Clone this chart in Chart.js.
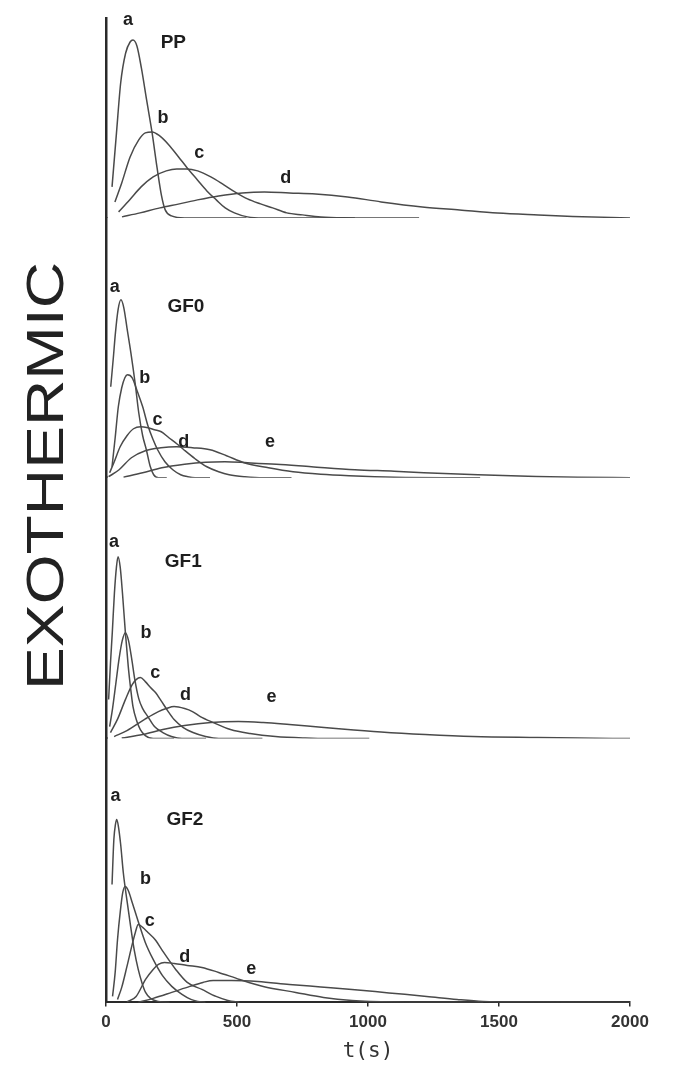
<!DOCTYPE html>
<html>
<head>
<meta charset="utf-8">
<script src="https://cdn.jsdelivr.net/npm/chart.js@4/dist/chart.umd.min.js"></script>
<style>
  html, body { margin: 0; padding: 0; background: #fff; }
</style>
</head>
<body>
<canvas id="exo_chart" width="676" height="1066"></canvas>
<script>
// t (s) vs heat flow (arbitrary units)

// PP panel
const ppA = [[23,31],[40,85],[56,135],[75,165],[92,176],[103,178],[118,172],[135,150],[155,118],[176,85],[195,50],[212,22],[226,8],[250,2],[300,0],[536,0]];
const ppB = [[34,16],[60,35],[92,61],[125,78],[150,85],[176,86],[205,82],[240,73],[277,61],[310,50],[349,38],[385,27],[421,18],[455,10],[490,5],[540,1],[600,0],[1195,0]];
const ppC = [[48,6],[90,18],[134,31],[180,41],[230,47],[270,49],[307,49],[350,47],[400,41],[450,33],[492,26],[540,19],[590,14],[636,10],[690,5],[750,3],[820,1],[950,0]];
const ppD = [[61,1],[130,5],[206,10],[280,14],[349,18],[430,22],[520,25],[605,26],[700,25],[800,24],[922,21],[1050,16],[1207,11],[1350,8],[1494,5],[1650,3],[1782,1.5],[2000,0]];

// GF0 panel
const gf0A = [[18,91],[28,120],[36,145],[46,168],[57,178],[68,170],[80,150],[95,125],[111,95],[125,65],[140,42],[154,28],[168,12],[182,3],[200,0],[232,0]];
const gf0B = [[23,11],[35,40],[47,71],[60,90],[72,100],[82,103],[100,100],[120,86],[140,71],[160,52],[180,38],[197,28],[225,16],[255,8],[285,3],[312,1],[340,0],[397,0]];
const gf0C = [[14,5],[30,15],[54,31],[80,42],[105,49],[132,51],[160,50],[185,48],[211,46],[240,40],[270,34],[297,28],[340,19],[385,11],[430,6],[470,3],[530,1],[600,0],[708,0]];
const gf0D = [[10,1],[50,8],[97,20],[150,27],[210,30],[269,31],[330,30],[397,28],[460,22],[527,15],[620,10],[714,6],[820,3.5],[928,2],[1100,0.5],[1428,0]];
const gf0E = [[67,0.5],[140,5],[213,10],[300,13.5],[380,15.5],[454,16],[540,15],[650,13.5],[784,11],[950,8],[1100,6.5],[1213,5],[1420,3],[1642,1.3],[1800,0.5],[2000,0]];

// GF1 panel
const gf1A = [[10,39],[17,75],[24,106],[32,145],[40,172],[46,182],[54,172],[63,145],[74,106],[85,72],[95,48],[103,32],[118,17],[131,9],[150,3],[180,0],[260,0]];
const gf1B = [[14,12],[25,30],[38,56],[50,80],[62,98],[74,106],[86,98],[98,80],[110,59],[125,40],[140,30],[160,22],[185,12],[217,6],[250,2],[290,0],[382,0]];
const gf1C = [[17,6],[45,20],[74,39],[100,54],[115,59],[131,61],[150,57],[170,51],[189,46],[210,38],[235,28],[260,19],[295,11],[332,6],[380,2],[430,0],[597,0]];
const gf1D = [[31,2],[80,8],[146,19],[200,27],[230,30],[260,32],[300,30],[330,27],[360,22],[410,16],[475,9],[550,5],[647,2],[760,0.5],[850,0],[1005,0]];
const gf1E = [[60,0.5],[140,4],[217,9],[300,13],[400,16],[505,17],[600,16],[700,14],[790,12],[900,9.5],[1050,6.5],[1218,4],[1400,2],[1648,1],[1800,0.5],[2000,0]];

// GF2 panel
const gf2A = [[23,118],[30,163],[36,178],[41,183],[48,175],[56,158],[66,130],[80,102],[94,76],[108,52],[123,33],[138,19],[151,10],[170,4],[200,1],[243,0]];
const gf2B = [[25,6],[35,30],[44,63],[55,92],[64,110],[73,116],[85,112],[100,100],[123,81],[150,60],[180,43],[215,27],[251,16],[290,8],[324,3],[350,1],[380,0]];
const gf2C = [[44,3],[60,15],[80,36],[100,58],[112,70],[123,78],[140,75],[160,70],[187,63],[220,50],[266,33],[310,20],[366,13],[420,6],[465,2],[510,0]];
const gf2D = [[80,0.5],[115,6],[151,23],[180,33],[200,38],[223,40],[260,39],[310,37],[366,35],[430,30],[510,23],[600,16],[724,10],[830,5],[939,2],[1100,0.5],[1440,0]];
const gf2E = [[123,0],[180,4],[251,10],[320,16],[370,20],[409,22],[480,22],[580,21],[700,18],[820,15.5],[939,13],[1080,9.5],[1224,6],[1340,3],[1439,1],[1600,0.3],[2000,0]];

const xTicks = [0, 500, 1000, 1500, 2000];

// label anchors in data units (t, height)
const ppLetters  = [['a',84,198],['b',218,100],['c',356,65],['d',686,40]];
const gf0Letters = [['a',33,191],['b',148,100],['c',197,58],['d',297,36],['e',626,36]];
const gf1Letters = [['a',31,197],['b',153,106],['c',188,66],['d',303,44],['e',632,42]];
const gf2Letters = [['a',36,206],['b',151,123],['c',167,81],['d',301,45],['e',554,33]];

const panels = [
    { name: 'PP',  axis: 'yPP',  max: 200, nameAt: [257,175], curves: [ppA, ppB, ppC, ppD], letters: ppLetters },
    { name: 'GF0', axis: 'yGF0', max: 260, nameAt: [305,171], curves: [gf0A, gf0B, gf0C, gf0D, gf0E], letters: gf0Letters },
    { name: 'GF1', axis: 'yGF1', max: 261, nameAt: [295,177], curves: [gf1A, gf1B, gf1C, gf1D, gf1E], letters: gf1Letters },
    { name: 'GF2', axis: 'yGF2', max: 264, nameAt: [301,183], curves: [gf2A, gf2B, gf2C, gf2D, gf2E], letters: gf2Letters }
];

const LINE = '#4a4a4a';
const AXIS = '#2a2a2a';

let datasets = [];
panels.forEach(p => {
    p.curves.forEach(c => {
        datasets.push({
            data: c.map(pt => ({ x: pt[0], y: pt[1] })),
            yAxisID: p.axis,
            borderColor: LINE,
            borderWidth: 1.5,
            pointRadius: 0,
            fill: false,
            cubicInterpolationMode: 'monotone'
        });
    });
});

let scales = {
    x: {
        type: 'linear',
        position: 'bottom',
        min: 0,
        max: 2000,
        afterBuildTicks: axis => { axis.ticks = xTicks.map(v => ({ value: v })); },
        ticks: {
            color: '#333',
            padding: 6,
            callback: v => String(v),
            font: { family: '"Liberation Sans", Arial, sans-serif', size: 17, weight: 'bold' }
        },
        grid: { display: true, drawOnChartArea: false, tickLength: 4, color: AXIS, lineWidth: 1.5 },
        border: { color: AXIS, width: 2 },
        title: {
            display: true,
            text: 't(s)',
            color: '#333',
            padding: { top: 0, bottom: 0 },
            font: { family: '"DejaVu Sans Mono", monospace', size: 21 }
        }
    }
};

// stacked y axes, bottom panel first so the top one is placed last
panels.slice().reverse().forEach(p => {
    scales[p.axis] = {
        type: 'linear',
        position: 'left',
        stack: 'panels',
        stackWeight: p.max,
        min: 0,
        max: p.max,
        ticks: { display: false },
        grid: { display: false, drawTicks: false },
        border: { color: AXIS, width: 2.5 }
    };
});

const annotate = {
    id: 'annotate',
    afterDatasetsDraw(chart) {
        const ctx = chart.ctx;
        const xs = chart.scales.x;
        ctx.save();
        ctx.fillStyle = '#1e1e1e';
        ctx.textAlign = 'center';
        ctx.textBaseline = 'middle';
        panels.forEach(p => {
            const ys = chart.scales[p.axis];
            ctx.font = 'bold 19px "Liberation Sans", Arial, sans-serif';
            ctx.fillText(p.name, xs.getPixelForValue(p.nameAt[0]), ys.getPixelForValue(p.nameAt[1]));
            ctx.font = 'bold 18px "Liberation Sans", Arial, sans-serif';
            p.letters.forEach(l => {
                ctx.fillText(l[0], xs.getPixelForValue(l[1]), ys.getPixelForValue(l[2]));
            });
        });

        // big rotated y label, stretched along the axis
        const area = chart.chartArea;
        ctx.translate(49, area.top + 458);
        ctx.rotate(-Math.PI / 2);
        ctx.font = '52px "Liberation Sans", Arial, sans-serif';
        const w = ctx.measureText('EXOTHERMIC').width;
        ctx.scale(428 / w, 1);
        ctx.fillStyle = '#222';
        ctx.fillText('EXOTHERMIC', 0, 0);
        ctx.restore();
    }
};

let exoChart = null;

function initializeChart() {
    const ctx = document.getElementById('exo_chart').getContext('2d');
    exoChart = new Chart(ctx, {
        type: 'line',
        data: { datasets: datasets },
        options: {
            responsive: false,
            animation: false,
            layout: { padding: { left: 106, right: 46, top: 18, bottom: 2 } },
            scales: scales,
            plugins: {
                legend: { display: false },
                tooltip: { enabled: false }
            }
        },
        plugins: [annotate]
    });
}

document.addEventListener('DOMContentLoaded', initializeChart);
</script>
</body>
</html>
